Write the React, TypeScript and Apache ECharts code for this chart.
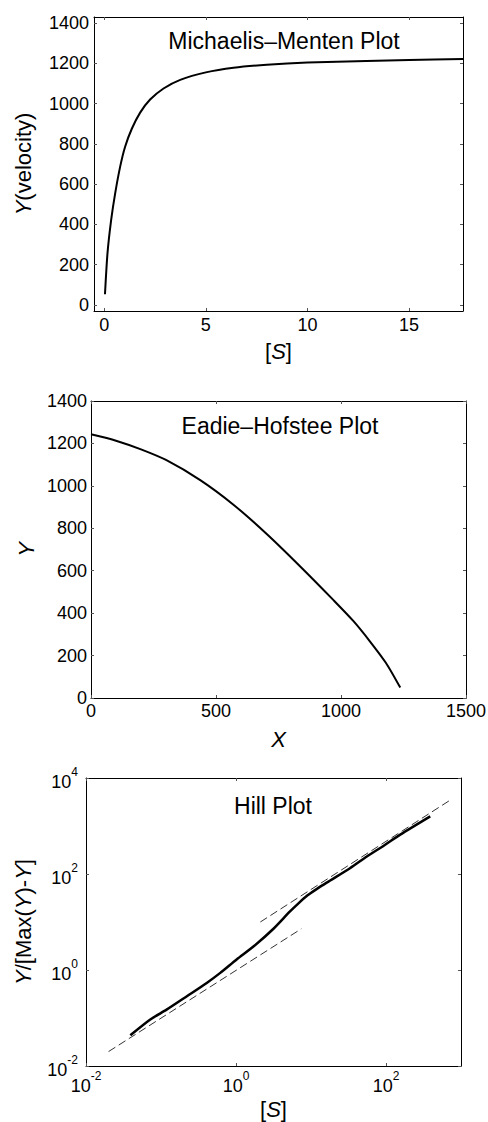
import React, { useEffect, useRef } from 'react';
import * as echarts from 'echarts';

// Michaelis–Menten plot: substrate concentration [S] vs velocity Y
const mmS = [0.04, 0.164, 0.344, 0.541, 0.787, 1.03, 1.36, 1.77, 2.26, 2.92, 3.74, 5.0, 6.36, 8.0, 10.0, 12.9, 15.0, 17.65];
const mmY = [53, 257, 422, 554, 687, 786, 875, 955, 1020, 1075, 1118, 1155, 1178, 1193, 1204, 1212, 1217, 1222];

// Eadie–Hofstee plot
const ehX = [0, 100, 200, 300, 437, 571, 704, 837, 971, 1050, 1117, 1180, 1237];
const ehY = [1243, 1213, 1172, 1122, 1027, 910, 772, 620, 460, 362, 265, 165, 49];

// Hill plot
const hillS = [0.039, 0.072, 0.12, 0.224, 0.407, 0.617, 1.02, 1.74, 3.16, 5.25, 6.92, 8.91, 12.0, 16.2, 33.1, 56.2, 93.3, 155, 389];
const hillR = [0.0437, 0.0933, 0.151, 0.288, 0.537, 0.871, 1.66, 3.16, 7.24, 16.6, 25.1, 35.5, 49.0, 66.1, 132, 234, 389, 661, 1585];
const fitLowS = [0.02, 7.43];
const fitLowR = [0.02, 7.21];
const fitHighS = [2.11, 736];
const fitHighR = [10.0, 3548];

// Tick labels
const mmXTicks = [0, 5, 10, 15];
const mmYTicks = [0, 200, 400, 600, 800, 1000, 1200, 1400];
const ehXTicks = [0, 500, 1000, 1500];
const ehYTicks = [0, 200, 400, 600, 800, 1000, 1200, 1400];
const hillXTicks = [0.01, 1, 100];
const hillYTicks = [0.01, 1, 100, 10000];

const titles = ['Michaelis–Menten Plot', 'Eadie–Hofstee Plot', 'Hill Plot'];

const FONT = "'Liberation Sans', Arial, Helvetica, sans-serif";
const TICK_FS = 18;
const NAME_FS = 22;

const nameStyle = {
  fontSize: NAME_FS,
  fontFamily: FONT,
  color: '#000',
  rich: { i: { fontStyle: 'italic', fontSize: NAME_FS, fontFamily: FONT, color: '#000' } },
};

const logRich = {
  b: { fontSize: TICK_FS, fontFamily: FONT, color: '#000', verticalAlign: 'bottom' },
  s: { fontSize: 12, fontFamily: FONT, color: '#000', verticalAlign: 'bottom', padding: [0, 0, 13, 0] },
};
const logFmt = (v: number) => `{b|10}{s|${Math.round(Math.log10(v))}}`;

function makeAxis(opts: any) {
  const {
    dim, gridIndex, type, min, max, ticks, mirror, name, nameGap, margin, log,
  } = opts;
  const position = dim === 'x' ? (mirror ? 'top' : 'bottom') : (mirror ? 'right' : 'left');
  const ax: any = {
    type,
    gridIndex,
    position,
    min,
    max,
    axisLine: { show: true, onZero: false, lineStyle: { color: '#000', width: 1 } },
    axisTick: { show: true, inside: true, length: 3, customValues: ticks, lineStyle: { color: '#555', width: 1 } },
    axisLabel: {
      show: !mirror,
      customValues: ticks,
      margin,
      color: '#000',
      fontSize: TICK_FS,
      fontFamily: FONT,
      formatter: (v: number) => String(v),
    },
    splitLine: { show: false },
    minorTick: { show: false },
    nameMoveOverlap: false,
  };
  if (log) {
    ax.logBase = 10;
    ax.axisLabel.formatter = logFmt;
    ax.axisLabel.rich = logRich;
  }
  if (!mirror && name) {
    ax.name = name;
    ax.nameLocation = 'middle';
    ax.nameGap = nameGap;
    ax.nameTextStyle = nameStyle;
  }
  return ax;
}

export default function App() {
  const ref = useRef<HTMLDivElement>(null);

  useEffect(() => {
    if (!ref.current) return;
    const chart = echarts.init(ref.current, null, { renderer: 'svg' });

    const grids = [
      { left: 94, top: 17, width: 369, height: 294 },
      { left: 91, top: 401, width: 375, height: 297 },
      { left: 86, top: 778, width: 375, height: 288 },
    ].map((g) => ({ ...g, outerBoundsMode: 'none', containLabel: false }));

    const xAxis = [
      makeAxis({ dim: 'x', gridIndex: 0, type: 'value', min: -0.5, max: 17.65, ticks: mmXTicks, name: '[{i|S}]', nameGap: 29, margin: 5 }),
      makeAxis({ dim: 'x', gridIndex: 0, type: 'value', min: -0.5, max: 17.65, ticks: mmXTicks, mirror: true }),
      makeAxis({ dim: 'x', gridIndex: 1, type: 'value', min: 0, max: 1500, ticks: ehXTicks, name: '{i|X}', nameGap: 30, margin: 4 }),
      makeAxis({ dim: 'x', gridIndex: 1, type: 'value', min: 0, max: 1500, ticks: ehXTicks, mirror: true }),
      makeAxis({ dim: 'x', gridIndex: 2, type: 'log', log: true, min: 0.01, max: 1000, ticks: hillXTicks, name: '[{i|S}]', nameGap: 32, margin: 4 }),
      makeAxis({ dim: 'x', gridIndex: 2, type: 'log', log: true, min: 0.01, max: 1000, ticks: hillXTicks, mirror: true }),
    ];
    const yAxis = [
      makeAxis({ dim: 'y', gridIndex: 0, type: 'value', min: -30, max: 1430, ticks: mmYTicks, name: '{i|Y}(velocity)', nameGap: 60, margin: 5 }),
      makeAxis({ dim: 'y', gridIndex: 0, type: 'value', min: -30, max: 1430, ticks: mmYTicks, mirror: true }),
      makeAxis({ dim: 'y', gridIndex: 1, type: 'value', min: 0, max: 1400, ticks: ehYTicks, name: '{i|Y}', nameGap: 54, margin: 4 }),
      makeAxis({ dim: 'y', gridIndex: 1, type: 'value', min: 0, max: 1400, ticks: ehYTicks, mirror: true }),
      makeAxis({ dim: 'y', gridIndex: 2, type: 'log', log: true, min: 0.01, max: 10000, ticks: hillYTicks, name: '{i|Y}/[Max({i|Y})-{i|Y}]', nameGap: 52, margin: 8 }),
      makeAxis({ dim: 'y', gridIndex: 2, type: 'log', log: true, min: 0.01, max: 10000, ticks: hillYTicks, mirror: true }),
    ];

    const lineBase = { type: 'line', showSymbol: false, symbol: 'none', silent: true, clip: true };

    const option: any = {
      animation: false,
      backgroundColor: '#fff',
      grid: grids,
      xAxis,
      yAxis,
      series: [
        {
          ...lineBase, name: 'Michaelis–Menten', xAxisIndex: 0, yAxisIndex: 0, smooth: 0.25,
          data: mmS.map((s, i) => [s, mmY[i]]),
          lineStyle: { color: '#000', width: 2 },
        },
        {
          ...lineBase, name: 'Eadie–Hofstee', xAxisIndex: 2, yAxisIndex: 2, smooth: 0.25,
          data: ehX.map((x, i) => [x, ehY[i]]),
          lineStyle: { color: '#000', width: 2 },
        },
        {
          ...lineBase, name: 'Hill', xAxisIndex: 4, yAxisIndex: 4, smooth: 0.25,
          data: hillS.map((s, i) => [s, hillR[i]]),
          lineStyle: { color: '#000', width: 2.5 },
        },
        {
          ...lineBase, name: 'Low asymptote', xAxisIndex: 4, yAxisIndex: 4,
          data: fitLowS.map((s, i) => [s, fitLowR[i]]),
          lineStyle: { color: '#333', width: 1, type: [8, 4] },
        },
        {
          ...lineBase, name: 'High asymptote', xAxisIndex: 4, yAxisIndex: 4,
          data: fitHighS.map((s, i) => [s, fitHighR[i]]),
          lineStyle: { color: '#333', width: 1, type: [8, 4] },
        },
      ],
      graphic: [
        { x: 284, y: 41, t: titles[0] },
        { x: 280, y: 426, t: titles[1] },
        { x: 273, y: 806, t: titles[2] },
      ].map((g) => ({
        type: 'text',
        x: g.x,
        y: g.y,
        silent: true,
        style: {
          text: g.t,
          fontSize: 23,
          fontFamily: FONT,
          fill: '#000',
          textAlign: 'center',
          textVerticalAlign: 'middle',
        },
      })),
    };

    chart.setOption(option);
    return () => chart.dispose();
  }, []);

  return (
    <div
      ref={ref}
      style={{ position: 'absolute', left: 0, top: 0, width: 488, height: 1122, background: '#fff' }}
    />
  );
}
